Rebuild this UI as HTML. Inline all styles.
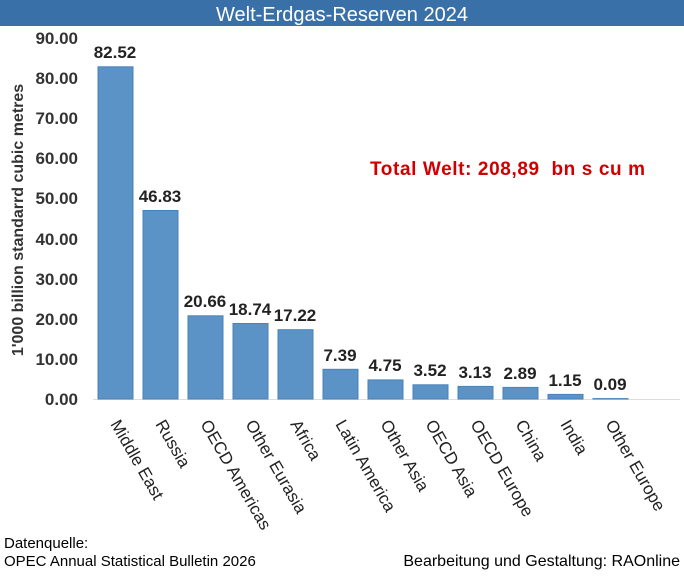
<!DOCTYPE html>
<html><head><meta charset="utf-8"><style>body{margin:0;background:#fff}</style></head><body>
<svg width="684" height="572" xmlns="http://www.w3.org/2000/svg" font-family="Liberation Sans, Arial, sans-serif">
<rect x="0" y="0" width="684" height="26" fill="#3a70a8"/>
<text x="342" y="21" font-size="20" fill="#fff" text-anchor="middle">Welt-Erdgas-Reserven 2024</text>
<g font-size="17" font-weight="bold" fill="#333" text-anchor="end">
<text x="78" y="405">0.00</text><text x="78" y="365">10.00</text><text x="78" y="325">20.00</text>
<text x="78" y="285">30.00</text><text x="78" y="245">40.00</text><text x="78" y="204">50.00</text>
<text x="78" y="164">60.00</text><text x="78" y="124">70.00</text><text x="78" y="84">80.00</text><text x="78" y="44">90.00</text>
</g>
<text transform="translate(23,220) rotate(-90)" font-size="16" font-weight="bold" fill="#333" text-anchor="middle">1'000 billion standarrd cubic metres</text>
<line x1="93" y1="399.5" x2="680" y2="399.5" stroke="#ddd"/>
<g fill="#5b93c7" stroke="#4a82ba">
<rect x="98" y="66.8" width="35" height="332.2"/>
<rect x="143" y="210.5" width="35" height="188.5"/>
<rect x="188" y="315.8" width="35" height="83.2"/>
<rect x="233" y="323.5" width="35" height="75.5"/>
<rect x="278" y="329.7" width="35" height="69.3"/>
<rect x="323" y="369.3" width="35" height="29.7"/>
<rect x="368" y="379.9" width="35" height="19.1"/>
<rect x="413" y="384.8" width="35" height="14.2"/>
<rect x="458" y="386.4" width="35" height="12.6"/>
<rect x="503" y="387.4" width="35" height="11.6"/>
<rect x="548" y="394.4" width="35" height="4.6"/>
<rect x="593" y="398.6" width="35" height="0.4"/>
</g>
<g font-size="17" font-weight="bold" fill="#222" text-anchor="middle">
<text x="115" y="58">82.52</text><text x="160" y="202">46.83</text><text x="205" y="307">20.66</text>
<text x="250" y="315">18.74</text><text x="295" y="321">17.22</text><text x="340" y="361">7.39</text>
<text x="385" y="371">4.75</text><text x="430" y="376">3.52</text><text x="475" y="378">3.13</text>
<text x="520" y="379">2.89</text><text x="565" y="386">1.15</text><text x="610" y="390">0.09</text>
</g>
<g font-size="17" fill="#222">
<text transform="translate(110,424) rotate(60)">Middle East</text>
<text transform="translate(155,424) rotate(60)">Russia</text>
<text transform="translate(200,424) rotate(60)">OECD Americas</text>
<text transform="translate(245,424) rotate(60)">Other Eurasia</text>
<text transform="translate(290,424) rotate(60)">Africa</text>
<text transform="translate(335,424) rotate(60)">Latin America</text>
<text transform="translate(380,424) rotate(60)">Other Asia</text>
<text transform="translate(425,424) rotate(60)">OECD Asia</text>
<text transform="translate(470,424) rotate(60)">OECD Europe</text>
<text transform="translate(515,424) rotate(60)">China</text>
<text transform="translate(560,424) rotate(60)">India</text>
<text transform="translate(605,424) rotate(60)">Other Europe</text>
</g>
<text x="370" y="175" font-size="19" font-weight="bold" fill="#d00000" xml:space="preserve" textLength="275">Total Welt: 208,89  bn s cu m</text>
<text x="4" y="548" font-size="15" fill="#000">Datenquelle:</text>
<text x="4" y="566" font-size="15" fill="#000">OPEC Annual Statistical Bulletin 2026</text>
<text x="680" y="566" font-size="16" fill="#000" text-anchor="end">Bearbeitung und Gestaltung: RAOnline</text>
</svg>
</body></html>
